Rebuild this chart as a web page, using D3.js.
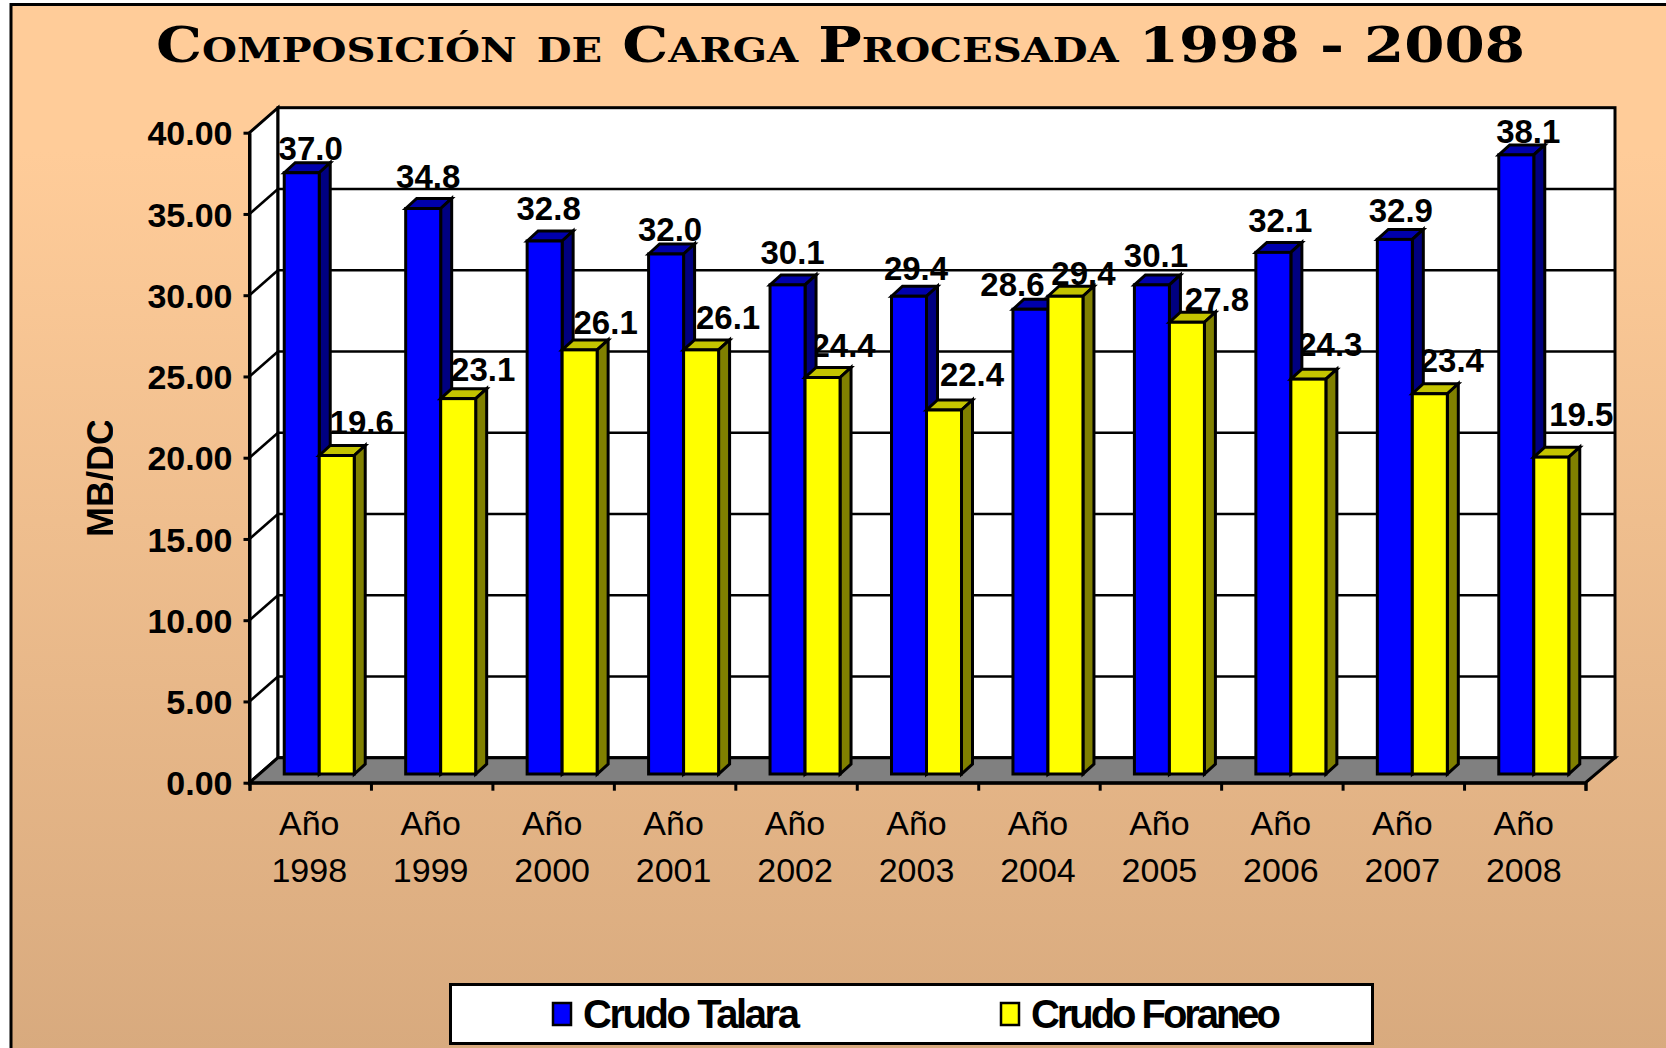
<!DOCTYPE html>
<html>
<head>
<meta charset="utf-8">
<script src="https://cdn.jsdelivr.net/npm/d3@7"></script>
<style>
  html, body { margin: 0; padding: 0; background: #fff; overflow: hidden; }
  svg { display: block; }
  text { fill: #000; font-family: "Liberation Sans Narrow", "Liberation Sans", sans-serif; }
</style>
</head>
<body>
<div id="chart"></div>
<script>
const years = ['1998', '1999', '2000', '2001', '2002', '2003', '2004', '2005', '2006', '2007', '2008'];
const crudoTalara = [37.0, 34.8, 32.8, 32.0, 30.1, 29.4, 28.6, 30.1, 32.1, 32.9, 38.1];
const crudoForaneo = [19.6, 23.1, 26.1, 26.1, 24.4, 22.4, 29.4, 27.8, 24.3, 23.4, 19.5];
const yTicks = [0, 5, 10, 15, 20, 25, 30, 35, 40];
const seriesNames = ['Crudo Talara', 'Crudo Foraneo'];
const titleText = 'Composición de Carga Procesada 1998 - 2008';

const w = 1666;
const h = 1048;

const svg = d3.select('#chart').append('svg').attr('width', w).attr('height', h);

const defs = svg.append('defs');
const grad = defs.append('linearGradient').attr('id', 'bg').attr('x1', 0).attr('x2', 0).attr('y1', 0).attr('y2', 1);
grad.append('stop').attr('offset', '0.14').attr('stop-color', '#FFCC99');
grad.append('stop').attr('offset', '1').attr('stop-color', '#D8AA7E');
defs.append('clipPath').attr('id', 'ylabelClip').append('rect')
    .attr('x', 60).attr('y', 421).attr('width', 53).attr('height', 130);

// background, only left and top edges of the frame are on the page
svg.append('rect').attr('x', 11).attr('y', 4.5).attr('width', w).attr('height', h)
   .attr('fill', 'url(#bg)').attr('stroke', '#000').attr('stroke-width', 3);

// front plane, back wall and bar plane share the value scale with a depth offset
const frontX = d3.scaleBand().domain(years).range([249.5, 1585.5]);
const frontY = d3.scaleLinear().domain([0, 40]).range([782.7, 132.7]);
const wallY = frontY.copy().range([757.7, 107.7]);
const barY = frontY.copy().range([774, 124]);
const tickX = d3.scaleLinear().domain([0, years.length]).range([249.5, 1585.5]);

const wallDx = 28.5;
const barDx = 9;
const barW = 35;
const sideDx = 11;
const sideDy = 10;

// walls
svg.append('polygon')
   .attr('points', [[frontX.range()[0], frontY(0)], [frontX.range()[0] + wallDx, wallY(0)], [frontX.range()[0] + wallDx, wallY(40)], [frontX.range()[0], frontY(40)]].join(' '))
   .attr('fill', '#fff').attr('stroke', '#000').attr('stroke-width', 3);
svg.append('rect')
   .attr('x', frontX.range()[0] + wallDx).attr('y', wallY(40))
   .attr('width', 1615 - frontX.range()[0] - wallDx).attr('height', wallY(0) - wallY(40))
   .attr('fill', '#fff').attr('stroke', '#000').attr('stroke-width', 3);

// gridlines on both walls
const grid = svg.append('g').attr('stroke', '#000').attr('stroke-width', 2.5);
grid.selectAll('.back').data(yTicks.slice(1, -1)).enter().append('line')
    .attr('x1', frontX.range()[0] + wallDx).attr('x2', 1615)
    .attr('y1', (d) => wallY(d)).attr('y2', (d) => wallY(d));
grid.selectAll('.side').data(yTicks.slice(1, -1)).enter().append('line')
    .attr('x1', frontX.range()[0]).attr('x2', frontX.range()[0] + wallDx)
    .attr('y1', (d) => frontY(d)).attr('y2', (d) => wallY(d));

// floor
svg.append('polygon')
   .attr('points', [[frontX.range()[0], frontY(0)], [frontX.range()[0] + wallDx, wallY(0)], [1615, wallY(0)], [frontX.range()[1], frontY(0)]].join(' '))
   .attr('fill', '#808080').attr('stroke', '#000').attr('stroke-width', 3);

const yAxis = d3.axisLeft(frontY).tickValues(yTicks).tickFormat(d3.format('.2f')).tickSize(6).tickSizeOuter(0);
const yG = svg.append('g').attr('transform', 'translate(' + frontX.range()[0] + ',0)').call(yAxis);
yG.selectAll('line').attr('stroke', '#000').attr('stroke-width', 3);
yG.select('.domain').attr('stroke', '#000').attr('stroke-width', 3);
yG.selectAll('text').attr('x', -17).attr('dy', '0.36em')
  .style('font-size', '34px').style('font-weight', 'bold');

const xAxis = d3.axisBottom(tickX).ticks(years.length).tickFormat('').tickSize(8).tickSizeOuter(8);
const xG = svg.append('g').attr('transform', 'translate(0,' + frontY(0) + ')').call(xAxis);
xG.selectAll('line').attr('stroke', '#000').attr('stroke-width', 3);
xG.select('.domain').attr('stroke', '#000').attr('stroke-width', 3);

// category labels, two lines
const catG = svg.append('g').attr('text-anchor', 'middle').style('font-size', '34px');
catG.selectAll('.ano').data(years).enter().append('text')
    .attr('x', (d) => frontX(d) + frontX.bandwidth() / 2 - 1).attr('y', 835).text('Año');
catG.selectAll('.yr').data(years).enter().append('text')
    .attr('x', (d) => frontX(d) + frontX.bandwidth() / 2 - 1).attr('y', 882).text((d) => d);

// value labels were dragged by hand in the original, so each one has its own nudge
const nudgeXT = [9, 5, 4, 4, 5, 7, -18, 4, 7, 6, 12];
const nudgeYT = [-13, -21, -21, -13, -21, -16, -13, -18, -20, -17, -12];
const nudgeXF = [25, 25, 26, 27, 21, 28, 18, 30, 22, 22, 30];
const nudgeYF = [-22, -18, -16, -21, -21, -24, -11, -11, -23, -22, -31];

const pairLeft = (yr) => frontX(yr) + frontX.bandwidth() / 2 + barDx - barW;

const labelG = svg.append('g').attr('text-anchor', 'middle')
                  .style('font-size', '33px').style('font-weight', 'bold');
labelG.selectAll('.lt').data(crudoTalara).enter().append('text')
      .attr('x', (d, i) => pairLeft(years[i]) + barW / 2 + nudgeXT[i])
      .attr('y', (d, i) => barY(d) + nudgeYT[i])
      .text((d) => d.toFixed(1));
labelG.selectAll('.lf').data(crudoForaneo).enter().append('text')
      .attr('x', (d, i) => pairLeft(years[i]) + barW * 1.5 + nudgeXF[i])
      .attr('y', (d, i) => barY(d) + nudgeYF[i])
      .text((d) => d.toFixed(1));

// one 3d box: top, side, front
function box(g, x, v, front, top, side) {
  const y0 = barY(0);
  const y1 = barY(v);
  g.append('polygon')
   .attr('points', [[x, y1], [x + sideDx, y1 - sideDy], [x + barW + sideDx, y1 - sideDy], [x + barW, y1]].join(' '))
   .attr('fill', top);
  g.append('polygon')
   .attr('points', [[x + barW, y1], [x + barW + sideDx, y1 - sideDy], [x + barW + sideDx, y0 - sideDy], [x + barW, y0]].join(' '))
   .attr('fill', side);
  g.append('rect')
   .attr('x', x).attr('y', y1).attr('width', barW).attr('height', y0 - y1)
   .attr('fill', front);
}

const bars = svg.append('g').attr('stroke', '#000').attr('stroke-width', 3).attr('stroke-linejoin', 'miter');
years.forEach(function (yr, i) {
  const g = bars.append('g');
  box(g, pairLeft(yr), crudoTalara[i], '#0000FF', '#0000AC', '#000080');
  box(g, pairLeft(yr) + barW, crudoForaneo[i], '#FFFF00', '#C4C400', '#808000');
});

// title
svg.append('text')
   .attr('x', 156).attr('y', 62)
   .attr('textLength', 1369).attr('lengthAdjust', 'spacingAndGlyphs')
   .style('font-family', '"DejaVu Serif", serif')
   .style('font-size', '49px').style('font-weight', 'bold').style('font-variant', 'small-caps')
   .text(titleText);

// y axis title, cut off at the top like the original
svg.append('g').attr('clip-path', 'url(#ylabelClip)').append('text')
   .attr('transform', 'translate(112.5,537) rotate(-90)')
   .style('font-family', '"Liberation Sans", sans-serif')
   .style('font-size', '36px').style('font-weight', 'bold')
   .text('MB/DC');

// legend
const legend = svg.append('g');
legend.append('rect').attr('x', 450.5).attr('y', 984.5).attr('width', 922).attr('height', 59)
      .attr('fill', '#fff').attr('stroke', '#000').attr('stroke-width', 3);
const legendX = d3.scaleOrdinal().domain(seriesNames).range([553, 1001]);
const legendLen = d3.scaleOrdinal().domain(seriesNames).range([217, 250]);
const legendCol = d3.scaleOrdinal().domain(seriesNames).range(['#0000FF', '#FFFF00']);
legend.selectAll('.sw').data(seriesNames).enter().append('rect')
      .attr('x', (d) => legendX(d)).attr('y', 1003).attr('width', 18).attr('height', 22)
      .attr('fill', (d) => legendCol(d)).attr('stroke', '#000').attr('stroke-width', 2.5);
legend.selectAll('.lb').data(seriesNames).enter().append('text')
      .attr('x', (d) => legendX(d) + 30).attr('y', 1028)
      .attr('textLength', (d) => legendLen(d)).attr('lengthAdjust', 'spacing')
      .style('font-size', '40px').style('font-weight', 'bold')
      .text((d) => d);
</script>
</body>
</html>
